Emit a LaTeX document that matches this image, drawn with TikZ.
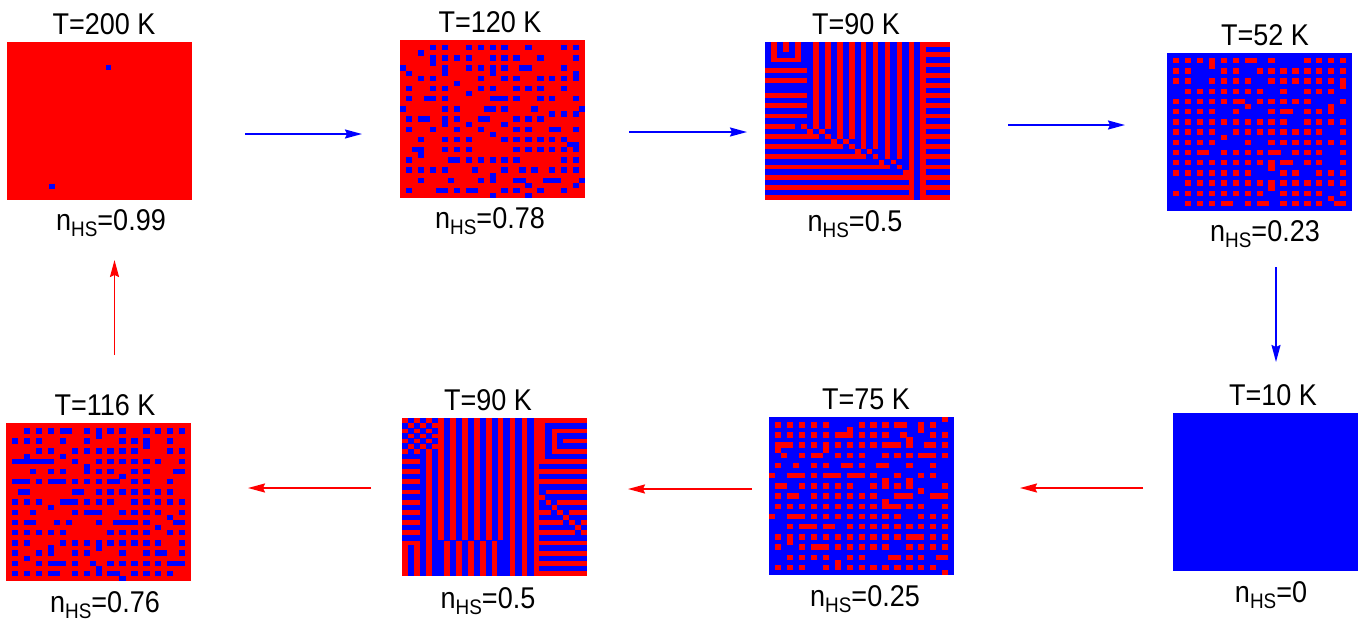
\documentclass[tikz,border=0pt]{standalone}
\usepackage{fontspec}
\setmainfont{Liberation Sans}[FakeStretch=0.9]
\usetikzlibrary{arrows.meta}
\definecolor{hsred}{RGB}{255,0,0}
\definecolor{lsblue}{RGB}{0,0,255}
\def\cw{5.968}
\def\ch{5.097}
\newcommand\nhslabel[1]{n\raisebox{-6.5pt}{\fontsize{21}{21}\selectfont HS}=#1}
% sparse sublattice cells: x0,y0,colour,seed,presence,shift,extra
\newcommand\sparsecells[7]{%
 \pgfmathsetseed{#4}%
 \foreach \ci in {1,3,...,29}{%
  \foreach \ri in {1,3,...,29}{%
   \pgfmathsetmacro\uu{rnd}%
   \pgfmathsetmacro\vv{rnd}%
   \pgfmathsetmacro\ww{rnd}%
   \pgfmathtruncatemacro\dc{(\vv<#6/4)?1:((\vv<#6/2)?-1:0)}%
   \pgfmathtruncatemacro\dr{((\vv>=#6/2)&&(\vv<3*#6/4))?1:(((\vv>=3*#6/4)&&(\vv<#6))?-1:0)}%
   \ifdim\uu pt<#5pt
     \fill[#3] ({#1+(\ci+\dc)*\cw},{#2+(\ri+\dr)*\ch}) rectangle ++({\cw+0.3},{\ch+0.3});
     \ifdim\ww pt<#7pt
       \pgfmathtruncatemacro\ec{(\ci+\dc<29)?1:-1}%
       \fill[#3] ({#1+(\ci+\dc+\ec)*\cw},{#2+(\ri+\dr)*\ch}) rectangle ++({\cw+0.3},{\ch+0.3});
     \fi
   \fi
  }}}
% stripe domain rule, upper T=90 K panel
\newcommand\stripeA[2]{%
 \pgfmathtruncatemacro\colv{((#1<=6)&&(#2<=8)) ? mod(max(abs(#1-3),#2-1),2) : (((#1<=6)&&(#2<=15)) ? mod(#2,2) : (((#1>=7)&&(#1<=23)&&(#2<=15+(#1-7)/2)) ? mod(#1,2) : (((#1>=24)&&(#2<=13)) ? ((#1>=27) ? mod(max(abs(#2-6),26-#1),2) : mod(#1,2)) : ((#1>=24) ? ((#1<=26) ? mod(#1,2) : mod(#2,2)) : ((abs(#2-16-(#1-7)/2)<=1) ? mod(#1+#2,2) : mod(#2,2))))))}}
% stripe domain rule, lower T=90 K panel
\newcommand\stripeB[2]{%
 \pgfmathtruncatemacro\colv{((#1>=6)&&(#1<=22)) ? (((#2>=24)&&(#1<=16)) ? mod(#1+1,2) : mod(#1,2)) : (((#1<=5)&&(#2<=6)) ? mod(#1+#2,2) : (((#1<=2)&&(#2<=24)) ? mod(#2,2) : ((#1<=5) ? mod(#1,2) : ((#2<=8) ? mod(max(abs(#2-4),27-#1),2) : ((abs(#2-#1+8)<=1) ? mod(#1+#2,2) : mod(#2,2))))))}}
\newcommand\stripecells[3]{% x0,y0,rule
 \foreach \ci in {0,...,30}{%
  \foreach \ri in {0,...,30}{%
   #3{\ci}{\ri}%
   \ifnum\colv=1
     \fill[lsblue] ({#1+\ci*\cw},{#2+\ri*\ch}) rectangle ++({\cw+0.3},{\ch+0.3});
   \fi
  }}}
\begin{document}
\begin{tikzpicture}[x=1pt,y=-1pt,
  panelbox/.style={rectangle,inner sep=0pt,outer sep=0pt,draw=none,minimum width=185pt,minimum height=158pt},
  lbl/.style={anchor=base,inner sep=0pt,font=\fontsize{30}{36}\selectfont},
  flowblue/.style={draw=lsblue,line width=1.8pt,-{Stealth[length=17pt,width=9pt,inset=2pt]}},
  flowred/.style={draw=hsred,line width=1.8pt,-{Stealth[length=17pt,width=9pt,inset=2pt]}}]
\useasboundingbox (0,0) rectangle (1364,624);
\fill[white] (0,0) rectangle (1364,624);
% panels
\node[panelbox,fill=hsred]  (p1) at (99.5,121) {};
\node[panelbox,fill=hsred]  (p2) at (492.5,119) {};
\node[panelbox,fill=hsred]  (p3) at (857.5,121) {};
\node[panelbox,fill=lsblue] (p4) at (1259.5,132) {};
\node[panelbox,fill=lsblue] (p5) at (1265.5,492) {};
\node[panelbox,fill=lsblue] (p6) at (861.5,496) {};
\node[panelbox,fill=hsred]  (p7) at (494.5,497) {};
\node[panelbox,fill=hsred]  (p8) at (98.5,502) {};
% lattice contents
\fill[lsblue] (106,65) rectangle (111,70);
\fill[lsblue] (49.3,184) rectangle (55.3,189);
\sparsecells{400}{40}{lsblue}{17}{0.80}{0.22}{0.05}
\stripecells{765}{42}{\stripeA}
\sparsecells{1167}{53}{hsred}{29}{0.92}{0.06}{0.0}
\sparsecells{769}{417}{hsred}{41}{0.93}{0.10}{0.07}
\stripecells{402}{418}{\stripeB}
\sparsecells{6}{423}{lsblue}{53}{0.82}{0.22}{0.07}
% titles
\node[lbl] (t1) at (104,34)   {T=200 K};
\node[lbl] (t2) at (490,32)   {T=120 K};
\node[lbl] (t3) at (856,34)   {T=90 K};
\node[lbl] (t4) at (1265,45)  {T=52 K};
\node[lbl] (t5) at (1273,405) {T=10 K};
\node[lbl] (t6) at (866,409)  {T=75 K};
\node[lbl] (t7) at (488,410)  {T=90 K};
\node[lbl] (t8) at (105,415)  {T=116 K};
% fractions
\node[lbl] (n1) at (111,230)  {\nhslabel{0.99}};
\node[lbl] (n2) at (490,228)  {\nhslabel{0.78}};
\node[lbl] (n3) at (855,231)  {\nhslabel{0.5}};
\node[lbl] (n4) at (1265,241) {\nhslabel{0.23}};
\node[lbl] (n5) at (1271,602) {\nhslabel{0}};
\node[lbl] (n6) at (865,606)  {\nhslabel{0.25}};
\node[lbl] (n7) at (488,608)  {\nhslabel{0.5}};
\node[lbl] (n8) at (105,612)  {\nhslabel{0.76}};
% arrow ends
\coordinate (a1s) at (245,134);  \coordinate (a1e) at (362,134);
\coordinate (a2s) at (629,132);  \coordinate (a2e) at (747,132);
\coordinate (a3s) at (1008,125); \coordinate (a3e) at (1125,125);
\coordinate (a4s) at (1276,267); \coordinate (a4e) at (1276,362);
\coordinate (a5s) at (1143,488); \coordinate (a5e) at (1020,488);
\coordinate (a6s) at (752,489);  \coordinate (a6e) at (628,489);
\coordinate (a7s) at (371,488);  \coordinate (a7e) at (248,488);
\coordinate (a8s) at (114.5,355); \coordinate (a8e) at (114.5,260);
\draw[flowblue] (a1s) -- (a1e);
\draw[flowblue] (a2s) -- (a2e);
\draw[flowblue] (a3s) -- (a3e);
\draw[flowblue] (a4s) -- (a4e);
\draw[flowred] (a5s) -- (a5e);
\draw[flowred] (a6s) -- (a6e);
\draw[flowred] (a7s) -- (a7e);
\draw[flowred] (a8s) -- (a8e);
\end{tikzpicture}
\end{document}
